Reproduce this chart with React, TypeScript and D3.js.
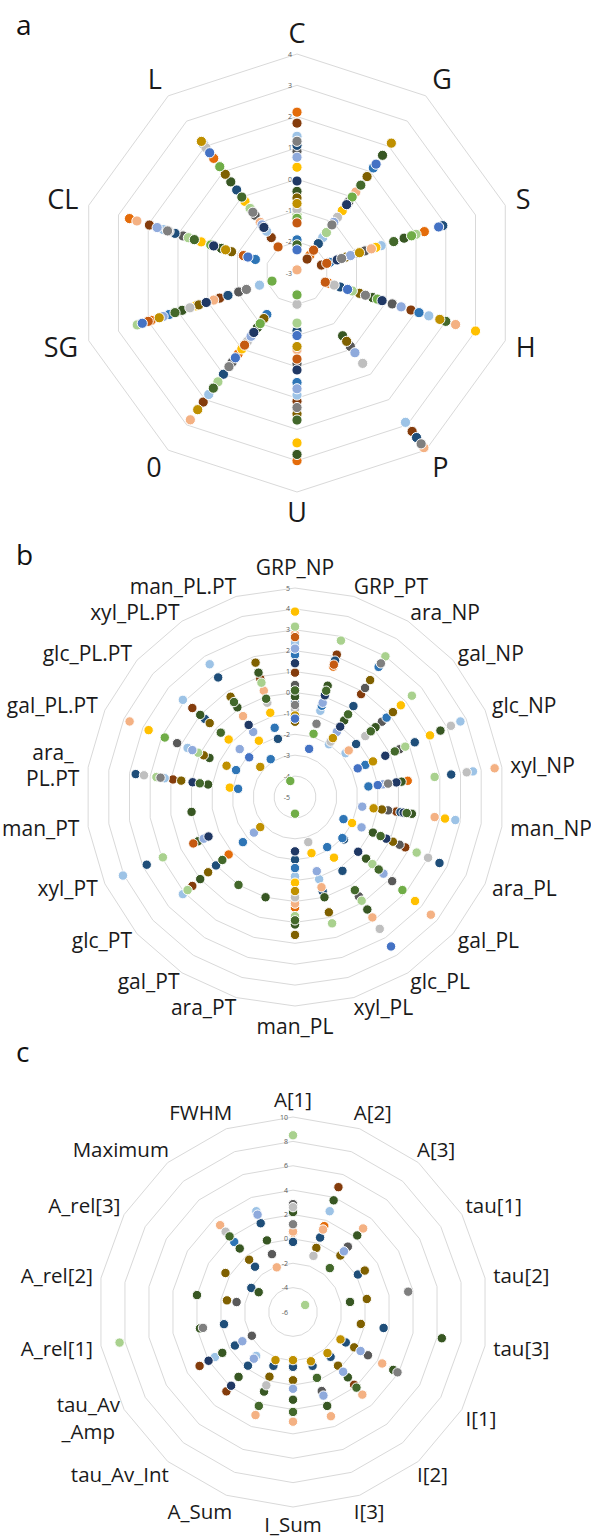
import React, { useEffect, useRef } from "react";
import * as d3 from "d3";

const _ = null;

// series colours (Excel-like palette)
const seriesColors = [
  "#E46C0A", "#843C0C", "#9DC3E6", "#595959", "#1F4E79",
  "#FFC000", "#2E75B6", "#385723", "#7F6000", "#F4B183",
  "#A9D18E", "#BFBFBF", "#8FAADC", "#70AD47", "#C55A11",
  "#203864", "#43682B", "#BF9000", "#7F7F7F", "#4472C4",
];

// ---------- panel a ----------
const aAxes = ["C", "G", "S", "H", "P", "U", "0", "SG", "CL", "L"];
const aTicks = [-3, -2, -1, 0, 1, 2, 3, 4];
const aValues: (number | null)[][] = [
  [2.14, -2.3, 1.28, -1.94, _, 3.0, 0.2, 1.9, 2.63, 1.53],
  [1.79, -2.45, -2.18, 0.83, 3.26, 1.1, 2.1, -0.4, 1.96, -1.6],
  [1.37, -1.6, -0.17, 1.43, 2.9, 0.9, 1.8, -1.74, 1.5, -1.35],
  [0.89, -0.18, -0.72, 0.2, -0.1, -0.1, 0.53, -1.04, 0.83, -0.72],
  [1.08, -1.84, 1.9, -1.55, 3.5, -1.15, 1.0, -0.68, 1.1, 0.28],
  [0.38, -0.54, -0.35, 3.0, _, 2.43, 0.0, 0.4, 0.22, -0.17],
  [-1.94, 1.15, -1.9, 1.1, _, 0.5, -1.36, 1.3, -1.6, 2.08],
  [-0.39, 1.65, 0.6, -0.46, -0.52, 2.8, -0.84, 0.86, -0.46, 0.6],
  [-0.6, 0.81, -1.35, -0.9, -0.3, 1.5, -1.2, 0.3, -0.8, 0.9],
  [-2.9, 0.2, -0.5, 2.33, 3.9, -0.55, 2.8, -0.2, 2.38, -1.0],
  [-1.13, -1.4, 1.0, -1.14, _, -1.4, 1.3, 2.37, 0.65, -0.45],
  [-0.97, -0.8, -1.0, -1.75, 0.57, -2.0, -0.3, 0.6, 1.3, 1.95],
  [0.7, -1.0, -1.2, 0.5, 0.15, 0.7, -0.5, 1.5, 1.7, -1.1],
  [-1.25, 0.0, 0.85, -0.3, _, -2.3, -1.0, -2.16, -0.1, 1.2],
  [-1.4, -2.1, -2.0, -2.05, _, -0.25, -0.15, 2.0, -1.2, -1.97],
  [-0.06, -0.3, -1.65, -0.14, _, 0.1, -0.65, 0.05, -0.2, -1.2],
  [-2.1, 0.47, 0.25, 2.0, _, 1.7, 1.55, 1.1, 0.45, 0.0],
  [-0.78, 2.13, -0.9, 1.8, _, -0.65, 2.4, 1.63, -0.6, 2.2],
  [1.21, -1.1, -1.5, -0.7, 3.75, 1.3, 0.7, -1.3, 1.35, -0.6],
  [-2.26, 1.3, 1.76, -1.3, _, -1.0, 0.35, 2.2, -1.35, 1.75],
];

// ---------- panel b ----------
const bAxes = [
  "GRP_NP", "GRP_PT", "ara_NP", "gal_NP", "glc_NP", "xyl_NP", "man_NP",
  "ara_PL", "gal_PL", "glc_PL", "xyl_PL", "man_PL", "ara_PT", "gal_PT",
  "glc_PT", "xyl_PT", "man_PT", "ara_\nPL.PT", "gal_PL.PT", "glc_PL.PT",
  "xyl_PL.PT", "man_PL.PT",
];
const bTicks = [-5, -4, -3, -2, -1, 0, 1, 2, 3, 4, 5];
const bValues: (number | null)[][] = [
  [2.6, 1.5, _, _, _, 0.45, _, _, _, _, _, 0.3, _, _, -0.8, _, _, _, _, _, _, _],
  [0.95, 2.1, 0.85, _, _, _, -0.1, 0.8, _, _, _, _, _, _, 1.5, _, _, 0.9, _, 1.5, _, 0.9],
  [2.37, -0.7, -2.0, -1.8, 3.7, 3.6, 2.75, _, _, _, -0.9, -1.2, _, _, 2.1, 4.05, _, 1.3, 0.65, 2.1, 2.55, _],
  [0.36, _, 1.2, 0.5, 0.5, _, -0.5, 0.5, 1.15, 0.65, _, _, _, _, _, _, _, _, 1.2, _, _, _],
  [-0.5, 1.8, 0.17, -1.13, 1.3, 2.55, 0.1, 2.6, -1.9, -0.8, -0.3, -2.0, _, _, 0.0, 2.8, _, 2.7, _, 0.7, 1.8, -2.1],
  [3.87, _, _, 1.7, 2.1, _, 2.25, -2.0, 2.6, -1.55, -2.2, -0.9, _, _, _, _, _, -1.85, 2.7, -0.8, -1.8, -0.8],
  [1.8, -0.45, 2.4, 0.8, -1.3, -1.45, _, -2.45, -2.0, -2.15, _, -1.6, _, _, -1.7, _, _, -2.25, -1.9, _, -2.85, -1.55],
  [-0.2, 0.55, -0.65, 0.1, 2.65, 0.15, 0.65, -0.9, -0.5, 1.4, 0.0, 1.1, 0.0, _, 1.0, 0.1, 0.0, -0.8, -0.5, 1.0, 0.1, 1.2],
  [-1.4, _, 1.65, 1.2, _, _, -0.8, 0.15, _, _, 0.75, 1.6, _, _, 0.5, _, _, 0.5, -0.2, 0.4, 0.7, 1.7],
  [2.8, _, _, -1.6, _, 4.65, 1.75, _, 3.6, 1.85, -0.5, 0.1, _, _, _, _, _, _, 3.7, _, -0.4, 0.3],
  [3.15, 2.8, 3.0, 2.4, 0.8, 1.75, _, 1.4, -0.1, 0.9, 1.3, 0.7, _, _, 1.8, 1.95, _, 1.7, 0.1, _, _, 0.7],
  [-0.8, _, -1.85, -0.55, 3.2, 3.3, _, 2.0, _, 2.5, -2.75, -0.2, _, _, _, _, _, 2.3, _, _, _, -0.3],
  [2.1, -0.3, -1.3, _, _, -0.75, -1.75, -1.5, 0.6, _, -1.3, _, _, _, -2.4, -0.2, _, _, 0.4, -1.5, -1.3, _],
  [_, -1.85, _, _, _, _, _, _, 1.8, _, _, -4.2, _, _, _, _, _, _, 1.85, _, _, -4.2],
  [2.65, 1.6, _, _, _, _, _, _, _, _, _, _, _, _, _, 0.35, _, _, _, _, _, _],
  [1.4, 0.07, -1.0, _, -0.25, -0.1, 0.25, -0.2, -1.0, _, _, -2.4, _, _, _, -0.45, _, -0.05, _, _, -0.9, _],
  [0.1, 0.3, -0.3, -0.2, 0.25, _, 0.4, -0.5, 0.3, 0.3, _, 0.9, _, 0.0, -0.4, _, _, -0.4, _, -0.3, 0.4, -0.1],
  [-1.1, _, -1.65, _, -0.9, _, -1.2, _, _, _, _, -0.5, _, _, -2.8, _, _, _, -1.4, -2.8, _, _],
  [-0.6, -1.35, 2.6, _, _, -0.5, _, _, _, _, _, _, _, _, _, _, _, 1.5, _, _, _, _],
  [-1.25, -2.6, _, _, -1.7, -1.0, _, _, _, 3.5, _, _, _, _, _, _, _, _, _, -2.1, _, _],
];

// ---------- panel c ----------
const cAxes = [
  "A[1]", "A[2]", "A[3]", "tau[1]", "tau[2]", "tau[3]", "I[1]", "I[2]", "I[3]",
  "I_Sum", "A_Sum", "tau_Av_Int", "tau_Av\n_Amp", "A_rel[1]", "A_rel[2]",
  "A_rel[3]", "Maximum", "FWHM",
];
const cTicks = [-6, -4, -2, 0, 2, 4, 6, 8, 10];
const cValues: (number | null)[][] = [
  [0.5, 1.5, _, _, _, _, _, _, _, _, _, _, _, _, _, _, _, _],
  [_, 4.9, _, _, _, _, _, 1.8, _, _, _, 2.5, 2.85, _, _, _, _, _],
  [_, 2.8, _, _, _, _, _, _, _, _, _, -1.3, 1.4, _, _, _, _, 2.8],
  [2.85, _, 1.0, _, _, _, 1.1, _, 0.9, _, _, _, -2.1, _, -1.3, _, _, -0.95],
  [-0.25, 0.5, _, 0.15, _, 1.55, -1.0, -1.2, -1.3, -1.5, -1.3, -0.25, -0.5, -0.25, _, -2.05, -1.15, 1.75],
  [_, _, _, _, _, _, _, _, _, _, _, _, _, _, _, _, _, _],
  [_, _, _, _, _, _, _, _, _, _, _, _, _, _, _, _, 1.5, _],
  [2.2, 3.75, 2.2, _, -1.25, 6.4, 3.5, 1.0, 2.2, 1.2, 0.95, 0.95, 0.7, 1.75, 2.0, -2.75, 0.8, 0.25],
  [_, -0.4, 0.05, 0.8, 0.15, -0.35, -0.2, -0.25, _, -0.4, -0.35, _, _, _, -0.5, 0.4, -0.4, _],
  [0.6, 1.2, 2.95, _, _, _, 2.45, 2.85, 3.1, 3.0, 3.0, _, _, _, _, _, 3.3, -2.1],
  [8.5, _, _, -4.85, _, _, _, _, _, _, _, _, _, 8.45, _, _, _, _],
  [2.6, -1.1, _, _, _, _, _, _, _, _, 0.4, _, _, _, _, _, 2.6, _],
  [_, _, 0.5, _, _, _, 0.4, 0.4, 1.3, 0.3, _, -1.0, -1.2, _, _, _, _, 2.5],
  [_, _, _, _, _, _, _, _, _, _, _, _, _, _, _, _, _, _],
  [_, _, _, _, _, _, _, _, _, _, _, _, _, _, _, _, _, _],
  [_, _, _, _, _, _, _, _, _, _, _, 1.9, 2.0, _, _, _, _, _],
  [_, _, -1.3, _, _, _, _, 2.1, -0.25, 2.2, 2.2, _, _, _, _, _, 2.1, _],
  [_, _, _, _, _, _, -1.5, -1.6, -1.7, -2.05, -1.8, _, _, _, _, _, _, _],
  [1.2, _, _, _, 3.6, _, 3.9, _, _, _, _, _, _, 1.5, _, _, _, _],
  [_, _, _, _, _, _, _, _, _, _, _, _, _, _, _, _, _, _],
];

// ---------- layout ----------
type Panel = {
  letter: string; lx: number; ly: number;
  axes: string[]; ticks: number[]; values: (number | null)[][];
  cx: number; cy: number; R: number;
  font: number; gap: number; overlap: number; extraV: number; vSide: number;
  dotR: number; lineH: number;
};

const panels: Panel[] = [
  { letter: "a", lx: 16, ly: 35, axes: aAxes, ticks: aTicks, values: aValues,
    cx: 297, cy: 273, R: 219, font: 27, gap: 11, overlap: 0, extraV: 0, vSide: 1,
    dotR: 5.1, lineH: 1.2 },
  { letter: "b", lx: 16, ly: 565, axes: bAxes, ticks: bTicks, values: bValues,
    cx: 295, cy: 797, R: 209, font: 21, gap: 9, overlap: 3, extraV: 4, vSide: 0.15,
    dotR: 4.7, lineH: 1.25 },
  { letter: "c", lx: 16, ly: 1062, axes: cAxes, ticks: cTicks, values: cValues,
    cx: 293, cy: 1312, R: 195, font: 20.5, gap: 10, overlap: 10, extraV: 0, vSide: 1,
    dotR: 4.7, lineH: 1.35 },
];

const FONT = "'Open Sans', 'Noto Sans', sans-serif";

function drawPanel(svg: d3.Selection<SVGSVGElement, unknown, null, undefined>, p: Panel) {
  const n = p.axes.length;
  const minV = p.ticks[0];
  const maxV = p.ticks[p.ticks.length - 1];
  const angle = d3.scaleLinear().domain([0, n]).range([0, 2 * Math.PI]);
  const rad = d3.scaleLinear().domain([minV, maxV]).range([0, p.R]);

  svg.append("text")
    .attr("x", p.lx).attr("y", p.ly)
    .attr("font-family", FONT).attr("font-size", 28)
    .attr("fill", "#111").text(p.letter);

  const g = svg.append("g").attr("transform", `translate(${p.cx},${p.cy})`);

  // rings
  const ringLine = d3.lineRadial<number>()
    .angle((i) => angle(i))
    .curve(d3.curveLinearClosed);
  p.ticks.slice(1).forEach((v) => {
    g.append("path")
      .attr("d", ringLine.radius(() => rad(v))(d3.range(n)) as string)
      .attr("fill", "none")
      .attr("stroke", "#D9D9D9")
      .attr("stroke-width", 1);
  });

  // tick labels
  p.ticks.forEach((v) => {
    g.append("text")
      .attr("x", -5).attr("y", -rad(v) + 2.5)
      .attr("text-anchor", "end")
      .attr("font-family", FONT).attr("font-size", 7)
      .attr("fill", "#595959")
      .text(String(v));
  });

  // points
  p.values.forEach((row, s) => {
    row.forEach((v, i) => {
      if (v === null || v === undefined) return;
      const a = angle(i);
      const r = rad(v);
      g.append("circle")
        .attr("cx", r * Math.sin(a))
        .attr("cy", -r * Math.cos(a))
        .attr("r", p.dotR)
        .attr("fill", seriesColors[s % seriesColors.length])
        .attr("stroke", "#ffffff")
        .attr("stroke-width", 1);
    });
  });

  // category labels
  p.axes.forEach((label, i) => {
    const a = angle(i);
    const sx = Math.sin(a), cs = Math.cos(a);
    const ar = p.R + p.gap;
    const ax = ar * sx, ay = -ar * cs;
    const lines = label.split("\n");
    const lg = g.append("g");
    const capH = p.font * 0.72;
    const lh = p.font * p.lineH;
    lines.forEach((ln, k) => {
      lg.append("text")
        .attr("x", 0)
        .attr("y", (k - (lines.length - 1) / 2) * lh + capH / 2)
        .attr("text-anchor", "middle")
        .attr("font-family", FONT).attr("font-size", p.font)
        .attr("fill", "#1a1a1a")
        .text(ln);
    });
    const bb = (lg.node() as SVGGElement).getBBox();
    const w = bb.width;
    const side = Math.abs(sx) >= 0.01;
    const px = side ? ax + Math.sign(sx) * (w / 2 - p.overlap * Math.abs(cs)) : ax;
    const vf = side ? p.vSide : 1;
    const py = ay - cs * (capH / 2 + p.extraV) * vf;
    lg.attr("transform", `translate(${px},${py})`);
  });
}

export default function App() {
  const ref = useRef<SVGSVGElement>(null);
  useEffect(() => {
    if (!ref.current) return;
    const svg = d3.select(ref.current);
    svg.selectAll("*").remove();
    panels.forEach((p) => drawPanel(svg, p));
  }, []);
  return (
    <svg
      ref={ref}
      width={591}
      height={1538}
      style={{ position: "absolute", left: 0, top: 0, background: "#fff" }}
    />
  );
}
